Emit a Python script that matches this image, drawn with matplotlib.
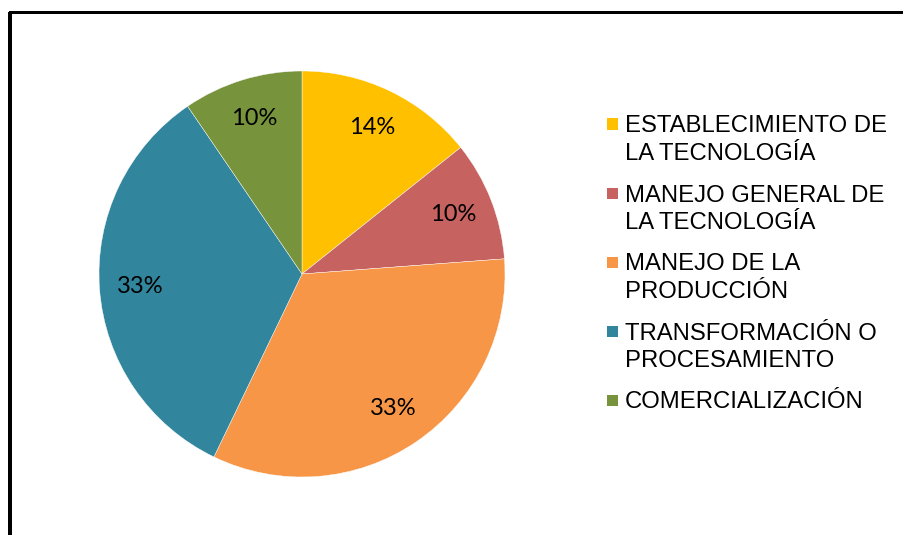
import matplotlib
matplotlib.use("Agg")
import matplotlib.pyplot as plt
from matplotlib.lines import Line2D
from matplotlib.patches import Rectangle

categories = [
    "ESTABLECIMIENTO DE\nLA TECNOLOGÍA",
    "MANEJO GENERAL DE\nLA TECNOLOGÍA",
    "MANEJO DE LA\nPRODUCCIÓN",
    "TRANSFORMACIÓN O\nPROCESAMIENTO",
    "COMERCIALIZACIÓN",
]
counts = [3, 2, 7, 7, 2]
colors = ["#FFC000", "#C6625F", "#F79646", "#31859C", "#77933C"]

W, H = 904, 535
fig = plt.figure(figsize=(W / 100, H / 100), dpi=100)
fig.patch.set_facecolor("white")

# pie axes
cx, cy, r = 302, 274, 203
ax = fig.add_axes([(cx - r) / W, (H - cy - r) / H, 2 * r / W, 2 * r / H])
wedges, texts, autotexts = ax.pie(
    counts, colors=colors, startangle=90, counterclock=False,
    autopct="%.0f%%", pctdistance=0.8, radius=1.0,
    wedgeprops=dict(edgecolor="white", linewidth=0.3),
    textprops=dict(fontsize=17, family="Lato", color="black"),
)
ax.set_xlim(-1, 1)
ax.set_ylim(-1, 1)
ax.set_aspect("auto")
ax.axis("off")

# legend drawn manually
sq = 11
x_sq = 607
y0, pitch = 124, 69
line_pitch = 27.5
for i, (cat, col) in enumerate(zip(categories, colors)):
    yc = y0 + i * pitch
    fig.patches.append(Rectangle((x_sq / W, 1 - (yc + sq / 2) / H), sq / W, sq / H,
                                 transform=fig.transFigure, facecolor=col, edgecolor="none"))
    for j, line in enumerate(cat.split("\n")):
        fig.text(625 / W, 1 - (yc + j * line_pitch) / H, line, ha="left", va="center_baseline",
                 fontsize=17.2, family="Liberation Sans", color="black")

# border (top and left)
lw = 3 * 72 / 100
fig.add_artist(Line2D([9.5 / W, 1], [1 - 12 / H, 1 - 12 / H], transform=fig.transFigure,
                      color="black", linewidth=lw, solid_capstyle="projecting"))
fig.add_artist(Line2D([10 / W, 10 / W], [1 - 12 / H, 0], transform=fig.transFigure,
                      color="black", linewidth=4 * 72 / 100, solid_capstyle="butt"))

fig.savefig("out.png", dpi=100, facecolor="white")
